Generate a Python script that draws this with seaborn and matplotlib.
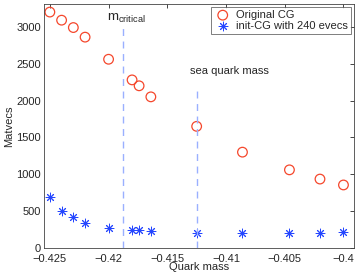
import matplotlib
matplotlib.use("Agg")
import matplotlib.pyplot as plt
import seaborn as sns
import pandas as pd

# quark masses (x) and matvec counts
mass = [-0.425, -0.424, -0.423, -0.422, -0.420, -0.418, -0.4174, -0.4164,
        -0.4125, -0.4086, -0.4046, -0.402, -0.400]
orig_cg = [3200, 3090, 2990, 2860, 2560, 2280, 2200, 2050,
           1650, 1300, 1060, 935, 855]
init_cg = [688, 506, 425, 339, 267, 240, 240, 231,
           208, 208, 210, 210, 212]
m_critical = -0.4188
sea_mass = -0.4125

df = pd.DataFrame({"mass": mass, "orig": orig_cg, "init": init_cg})

sns.set_style("white")
plt.rcParams['font.family'] = ['Liberation Sans', 'DejaVu Sans']
plt.rcParams['mathtext.fontset'] = 'custom'
plt.rcParams['mathtext.rm'] = 'Liberation Sans'

fig = plt.figure(figsize=(3.62, 2.77), dpi=100)
ax = fig.add_axes([0.1215, 0.1047, 0.8565, 0.881])

red = '#f5472c'
blue = '#2546ff'
sns.scatterplot(data=df, x="mass", y="orig", ax=ax, marker='o', s=48,
                facecolors='none', edgecolor=red, linewidth=0.9,
                label='Original CG')
sns.scatterplot(data=df, x="mass", y="init", ax=ax, marker=(8, 2, 0), s=40,
                color=blue, edgecolor=blue, linewidth=0.7,
                label='init-CG with 240 evecs')

ax.plot([m_critical, m_critical], [0, 3000], ls=(0, (5, 4)), color='#9ab0ff', lw=1)
ax.plot([sea_mass, sea_mass], [0, 2185], ls=(0, (5, 4)), color='#9ab0ff', lw=1)
ax.text(-0.4201, 3030, r'm$_{\rm critical}$', fontsize=9.5, va='bottom', ha='left')
ax.text(-0.4131, 2330, 'sea quark mass', fontsize=8, va='bottom', ha='left')

ax.set_xlim(-0.4255, -0.3991)
ax.set_ylim(0, 3310)
ax.set_xticks([-0.425, -0.42, -0.415, -0.41, -0.405, -0.4])
ax.set_xticklabels(['\u22120.425', '\u22120.42', '\u22120.415', '\u22120.41', '\u22120.405', '\u22120.4'])
ax.set_yticks([0, 500, 1000, 1500, 2000, 2500, 3000])
ax.tick_params(direction='in', length=3, labelsize=8, width=0.6, top=True, right=True,
               labeltop=False, labelright=False, pad=2)
ax.tick_params(axis='x', pad=4)
for sp in ax.spines.values():
    sp.set_linewidth(0.6)
    sp.set_color('#444444')
ax.set_xlabel('Quark mass', fontsize=8, labelpad=-1)
ax.set_ylabel('Matvecs', fontsize=8, labelpad=2)

leg = ax.legend(loc='upper right', fontsize=8, frameon=True, fancybox=False,
                borderaxespad=0.3, handletextpad=0.4, borderpad=0.25,
                labelspacing=0.1, handlelength=1.6)
leg.get_frame().set_edgecolor('#444444')
leg.get_frame().set_linewidth(0.6)

fig.savefig('out.png', dpi=100)
